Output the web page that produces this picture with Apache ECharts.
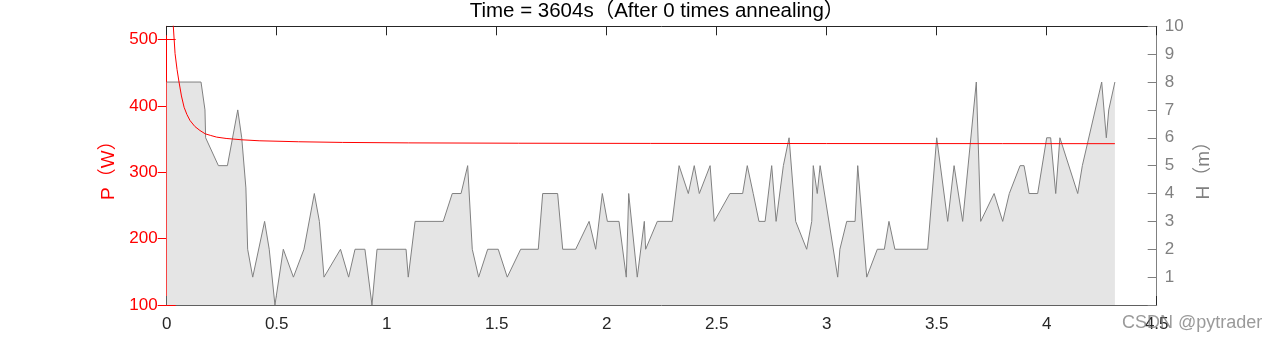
<!DOCTYPE html>
<html>
<head>
<meta charset="utf-8">
<script src="https://cdn.jsdelivr.net/npm/echarts@6/dist/echarts.min.js"></script>
<style>
html,body{margin:0;padding:0;background:#fff;}
#c{width:1279px;height:344px;}
</style>
</head>
<body>
<div id="c"></div>
<script>
// H profile (x in km-like units, H in m)
const hX = [0,0.156,0.174,0.177,0.235,0.276,0.323,0.341,0.360,0.368,0.391,0.445,0.466,0.492,0.530,0.576,0.624,0.671,0.694,0.715,0.790,0.827,0.856,0.901,0.933,0.956,1.088,1.098,1.129,1.257,1.298,1.338,1.368,1.389,1.418,1.459,1.507,1.548,1.609,1.689,1.709,1.777,1.800,1.859,1.920,1.950,1.980,2.003,2.056,2.089,2.100,2.139,2.171,2.177,2.230,2.298,2.329,2.371,2.398,2.421,2.470,2.489,2.560,2.618,2.639,2.666,2.692,2.720,2.750,2.770,2.803,2.829,2.859,2.909,2.932,2.939,2.957,2.970,3.050,3.060,3.091,3.129,3.141,3.182,3.230,3.262,3.283,3.310,3.459,3.500,3.550,3.579,3.618,3.680,3.700,3.761,3.800,3.830,3.879,3.897,3.920,3.959,4.000,4.018,4.041,4.060,4.141,4.162,4.250,4.271,4.282,4.310];
const hY = [8,8,7,6,5,5,7,6,4.2,2,1,3,2,0,2,1,2,4,3,1,2,1,2,2,0,2,2,1,3,3,4,4,5,2,1,2,2,1,2,2,4,4,2,2,3,2,4,3,3,1,4,1,3,2,3,3,5,4,5,4,5,3,4,4,5,4,3,3,5,3,5,6,3,2,3,5,4,5,1,2,3,3,5,1,2,2,3,2,2,6,3,5,3,8,3,4,3,4,5,5,4,4,6,6,4,6,4,5,8,6,7,8];
// Power curve
const pX = [0,0.030,0.038,0.047,0.056,0.067,0.079,0.092,0.106,0.128,0.151,0.175,0.200,0.227,0.270,0.340,0.420,0.600,0.800,1.100,1.600,2.200,3.000,3.800,4.310];
const pY = [700,520,479,455,436,415,398,387,378,369,363,358,355.5,353,351,349,347.5,346,345,344.3,343.8,343.5,343.3,343.2,343.1];
const xTicks = [0,0.5,1,1.5,2,2.5,3,3.5,4,4.5];
const pTicks = [100,200,300,400,500];
const hTicks = [0,1,2,3,4,5,6,7,8,9,10];

const FONT = "'Liberation Sans', Arial, 'Noto Sans CJK SC', sans-serif";
const chart = echarts.init(document.getElementById('c'), null, {renderer:'canvas'});
const hData = hX.map((x,i)=>[x,hY[i]]);
const pData = pX.map((x,i)=>[x,pY[i]]);

chart.setOption({
  animation:false,
  backgroundColor:'#ffffff',
  grid:{left:166.7,right:122.3,top:26.3,bottom:39,outerBoundsMode:'none',containLabel:false},
  xAxis:[
    {type:'value',position:'bottom',min:0,max:4.5,interval:0.5,
     axisLine:{show:true,onZero:false,lineStyle:{color:'#606060',width:1}},
     axisTick:{show:true,inside:true,length:9,lineStyle:{color:'#262626'}},
     axisLabel:{show:true,color:'#262626',fontSize:17,fontFamily:FONT,margin:11,
       customValues:xTicks},
     splitLine:{show:false}},
    {type:'value',position:'top',min:0,max:4.5,interval:0.5,
     axisLine:{show:true,onZero:false,lineStyle:{color:'#262626',width:1}},
     axisTick:{show:true,inside:true,length:9,lineStyle:{color:'#262626'}},
     axisLabel:{show:false},splitLine:{show:false}}
  ],
  yAxis:[
    {type:'value',position:'left',min:100,max:520,interval:100,
     name:'P（W）',nameLocation:'middle',nameGap:48,nameRotate:90,
     nameTextStyle:{color:'#ff0000',fontSize:19,fontFamily:FONT},
     axisLine:{show:true,onZero:false,lineStyle:{color:'#ff0000',width:1}},
     axisTick:{show:true,inside:true,length:9,lineStyle:{color:'#ff0000'},customValues:pTicks},
     axisLabel:{show:true,color:'#ff0000',fontSize:17,fontFamily:FONT,margin:9,customValues:pTicks},
     splitLine:{show:false}},
    {type:'value',position:'right',min:0,max:10,interval:1,
     name:'H（m）',nameLocation:'middle',nameGap:38,nameRotate:90,
     nameTextStyle:{color:'#808080',fontSize:19,fontFamily:FONT},
     axisLine:{show:true,onZero:false,lineStyle:{color:'#808080',width:1}},
     axisTick:{show:true,inside:true,length:9,lineStyle:{color:'#808080'},customValues:hTicks},
     axisLabel:{show:true,color:'#808080',fontSize:17,fontFamily:FONT,margin:8,
       customValues:hTicks.slice(1)},
     splitLine:{show:false}},
    {type:'value',position:'right',min:100,max:520,interval:100,
     axisLine:{show:false},
     axisTick:{show:true,inside:true,length:9,lineStyle:{color:'#ff0000'},customValues:pTicks},
     axisLabel:{show:false},splitLine:{show:false}}
  ],
  series:[
    {type:'line',name:'H',xAxisIndex:0,yAxisIndex:1,data:hData,symbol:'none',
     lineStyle:{color:'#808080',width:1},areaStyle:{color:'#e5e5e5',opacity:1},z:1,silent:true},
    {type:'line',name:'P',xAxisIndex:0,yAxisIndex:0,data:pData,symbol:'none',smooth:false,
     lineStyle:{color:'#ff0000',width:1},z:3,silent:true,clip:true}
  ],
  graphic:[
    {type:'text',z:100,style:{text:'Time = 3604s（After 0 times annealing）',x:657,y:11,
      align:'center',verticalAlign:'middle',fill:'#000000',fontSize:20.5,fontFamily:FONT}},
    {type:'text',z:100,style:{text:'CSDN @pytrader',x:1122,y:323,
      align:'left',verticalAlign:'middle',fill:'rgba(120,120,120,0.75)',fontSize:18,fontFamily:FONT}}
  ]
});
</script>
</body>
</html>
